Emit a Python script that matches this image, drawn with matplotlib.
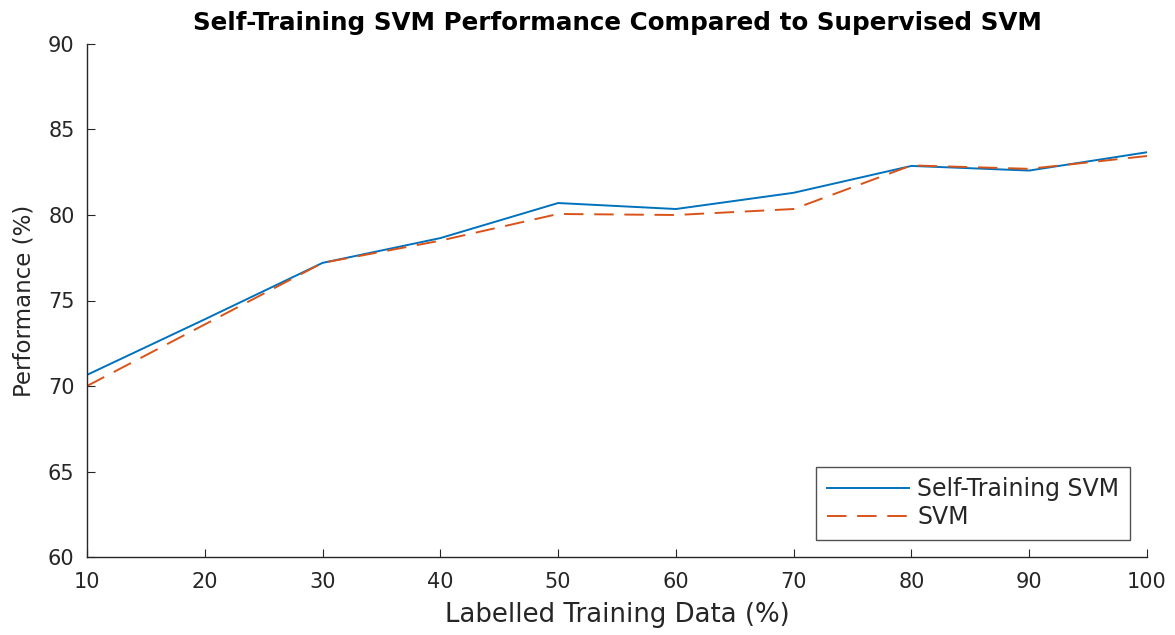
import matplotlib
matplotlib.use("Agg")
import matplotlib.pyplot as plt

plt.rcParams['font.family'] = ['DejaVu Sans']

x_pct = [10, 20, 30, 40, 50, 60, 70, 80, 90, 100]
self_training = [70.65, 73.9, 77.2, 78.65, 80.7, 80.35, 81.3, 82.87, 82.6, 83.67]
svm = [70.0, 73.6, 77.2, 78.5, 80.06, 80.0, 80.35, 82.9, 82.7, 83.45]

fig = plt.figure(figsize=(11.75, 6.35), dpi=100)
ax = fig.add_axes([87/1175, 1-557/635, (1147-87)/1175, (557-44)/635])

ax.plot(x_pct, self_training, color="#0072BD", lw=1.4, label="Self-Training SVM")
ax.plot(x_pct, svm, color="#D95319", lw=1.4, ls=(0, (10, 5.5)), label="SVM")

ax.set_xlim(10, 100)
ax.set_ylim(60, 90)
ax.set_xticks(range(10, 101, 10))
ax.set_yticks(range(60, 91, 5))
ax.tick_params(direction="in", length=6, labelsize=15, colors="#262626",
               top=False, right=False)
ax.tick_params(axis="x", pad=11)
ax.tick_params(axis="y", pad=9)
for s in ax.spines.values():
    s.set_color("#262626")
    s.set_linewidth(1.0)
ax.spines["top"].set_visible(False)
ax.spines["right"].set_visible(False)

ax.set_xlabel("Labelled Training Data (%)", fontsize=18.7, color="#262626", labelpad=7)
ax.set_ylabel("Performance (%)", fontsize=16.5, color="#262626", labelpad=9)
ax.set_title("Self-Training SVM Performance Compared to Supervised SVM", fontsize=17.7,
             fontweight="bold", color="black", pad=10)

leg = ax.legend(loc="lower right", fontsize=17, frameon=True, fancybox=False,
                edgecolor="#262626", bbox_to_anchor=(0.984, 0.034), borderaxespad=0,
                handlelength=3.5, handletextpad=0.35, borderpad=0.45, labelspacing=0.15)
leg.get_frame().set_linewidth(1.0)
for t in leg.get_texts():
    t.set_color("#262626")

fig.savefig("out.png", dpi=100)
